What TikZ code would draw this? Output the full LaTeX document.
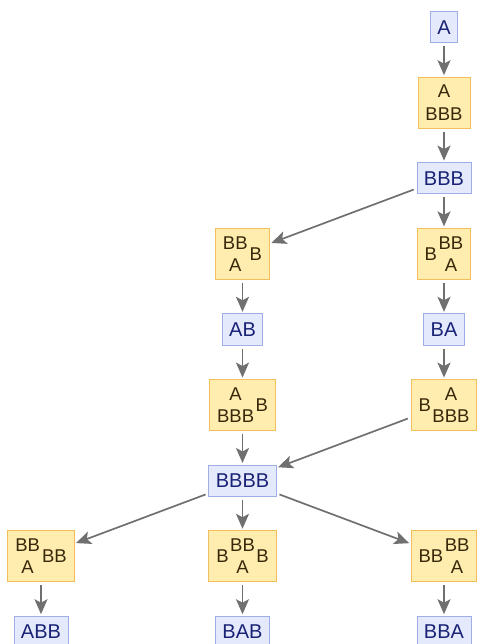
\documentclass[tikz,border=0pt]{standalone}
\usepackage{fontspec}
\setmainfont{Liberation Sans}
\usetikzlibrary{arrows.meta}
\definecolor{bfill}{RGB}{228,234,252}
\definecolor{bdraw}{RGB}{160,174,232}
\definecolor{btext}{RGB}{26,34,118}
\definecolor{yfill}{RGB}{255,237,175}
\definecolor{ydraw}{RGB}{244,190,92}
\definecolor{ytext}{RGB}{56,40,10}
\definecolor{edgec}{RGB}{112,112,112}
\newlength\stkgap \setlength\stkgap{9.5pt}
\newcommand\stk[2]{$\vcenter{\offinterlineskip\halign{\hfil##\hfil\cr\vphantom{B}#1\cr\noalign{\kern\stkgap}\vphantom{B}#2\cr}}$}
\newcommand\sd[1]{$\vcenter{\hbox{#1}}$}
\begin{document}
\begin{tikzpicture}[x=1pt,y=-1pt,
  bbox/.style={draw=bdraw, fill=bfill, text=btext, font=\fontsize{20}{24}\selectfont,
    inner xsep=7pt, inner ysep=8.5pt, text height=14.3pt, text depth=0pt, line width=0.9pt},
  ybox/.style={draw=ydraw, fill=yfill, text=ytext, font=\fontsize{18.5}{22}\selectfont,
    inner xsep=7.5pt, inner ysep=8pt, line width=0.9pt},
  edge/.style={draw=edgec, line width=1.7pt, -{Stealth[length=15pt,width=13pt,inset=3.5pt]},
    shorten <=3pt, shorten >=1.5pt}]
\useasboundingbox (0,0) rectangle (482,644);
% right column
\node[bbox] (a)    at (444,27)    {A};
\node[ybox] (y1)   at (444,102.6) {\stk{A}{BBB}};
\node[bbox] (bbb)  at (444,178.2) {BBB};
\node[ybox] (y2r)  at (444,253.8) {\sd{B}\kern1.5pt\stk{BB}{A}};
\node[bbox] (ba)   at (444,329.4) {BA};
\node[ybox] (y3r)  at (444,405)   {\sd{B}\kern1.5pt\stk{A}{BBB}};
% middle column
\node[ybox] (y2l)  at (242.5,253.8) {\stk{BB}{A}\kern2pt\sd{B}};
\node[bbox] (ab)   at (242.5,329.4) {AB};
\node[ybox] (y3l)  at (242.5,405)   {\stk{A}{BBB}\kern1.5pt\sd{B}};
\node[bbox] (bbbb) at (242.5,480.6) {BBBB};
% bottom row
\node[ybox] (y4l)  at (41,556.2)    {\stk{BB}{A}\kern2pt\sd{BB}};
\node[ybox] (y4m)  at (242.5,556.2) {\sd{B}\kern1.5pt\stk{BB}{A}\kern1.5pt\sd{B}};
\node[ybox] (y4r)  at (444,556.2)   {\sd{BB}\kern1.5pt\stk{BB}{A}};
\node[bbox] (abb)  at (41,631.8)    {ABB};
\node[bbox] (bab)  at (242.5,631.8) {BAB};
\node[bbox] (bba)  at (444,631.8)   {BBA};
% connectors
\draw[edge] (a) -- (y1);
\draw[edge] (y1) -- (bbb);
\draw[edge] (bbb) -- (y2l);
\draw[edge] (bbb) -- (y2r);
\draw[edge] (y2l) -- (ab);
\draw[edge] (y2r) -- (ba);
\draw[edge] (ab) -- (y3l);
\draw[edge] (ba) -- (y3r);
\draw[edge] (y3l) -- (bbbb);
\draw[edge] (y3r) -- (bbbb);
\draw[edge] (bbbb) -- (y4l);
\draw[edge] (bbbb) -- (y4m);
\draw[edge] (bbbb) -- (y4r);
\draw[edge] (y4l) -- (abb);
\draw[edge] (y4m) -- (bab);
\draw[edge] (y4r) -- (bba);
\end{tikzpicture}
\end{document}
